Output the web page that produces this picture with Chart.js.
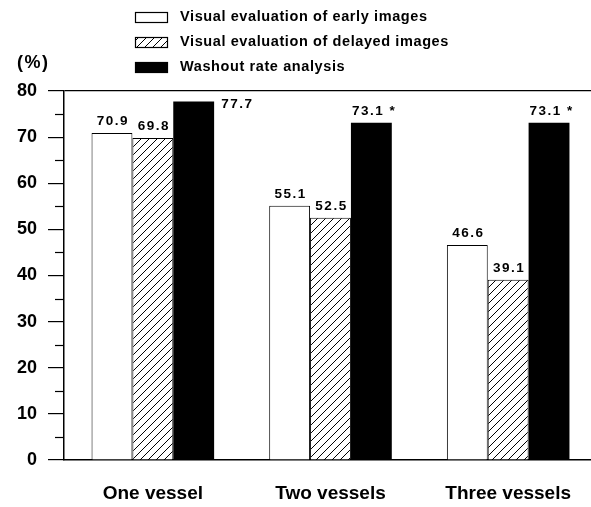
<!DOCTYPE html>
<html>
<head>
<meta charset="utf-8">
<script src="https://cdn.jsdelivr.net/npm/chart.js@4.4.1/dist/chart.umd.min.js"></script>
<style>
html, body { margin: 0; padding: 0; background: #fff; overflow: hidden; }
</style>
</head>
<body>
<canvas id="barChart" width="600" height="507"></canvas>
<script>
var categories = ['One vessel', 'Two vessels', 'Three vessels'];
var seriesNames = ['Visual evaluation of early images', 'Visual evaluation of delayed images', 'Washout rate analysis'];
var earlyValues = [70.9, 55.1, 46.6];
var delayedValues = [69.8, 52.5, 39.1];
var washoutValues = [77.7, 73.1, 73.1];
var washoutStar = [false, true, true];
var yMin = 0, yMax = 80, yStep = 10;

var FONT = '"Liberation Sans", Arial, Helvetica, sans-serif';

// diagonal hatch for the delayed images series
function makeHatch() {
    var c = document.createElement('canvas');
    c.width = 8; c.height = 8;
    var g = c.getContext('2d');
    g.fillStyle = '#fff';
    g.fillRect(0, 0, 8, 8);
    g.strokeStyle = '#000';
    g.lineWidth = 1;
    g.beginPath();
    g.moveTo(0, 8); g.lineTo(8, 0);
    g.moveTo(-1, 1); g.lineTo(1, -1);
    g.moveTo(7, 9); g.lineTo(9, 7);
    g.stroke();
    return g.createPattern(c, 'repeat');
}

var hatch = makeHatch();

var extras = {
    id: 'extras',
    afterDraw: function(chart) {
        var ctx = chart.ctx;
        var y = chart.scales.y;
        ctx.save();

        // minor ticks
        ctx.strokeStyle = '#000';
        ctx.lineWidth = 1.2;
        for (var v = yMin + yStep / 2; v < yMax; v += yStep) {
            var py = Math.round(y.getPixelForValue(v)) + 0.5;
            ctx.beginPath();
            ctx.moveTo(y.right - 9, py);
            ctx.lineTo(y.right, py);
            ctx.stroke();
        }

        // value labels
        ctx.fillStyle = '#000';
        ctx.font = 'bold 13.5px ' + FONT;
        ctx.letterSpacing = '1.5px';
        chart.data.datasets.forEach(function(ds, di) {
            chart.getDatasetMeta(di).data.forEach(function(bar, i) {
                var txt = ds.data[i].toFixed(1);
                if (di === 2 && i === 0) {
                    ctx.textAlign = 'left';
                    ctx.textBaseline = 'middle';
                    ctx.fillText(txt, bar.x + bar.width / 2 + 7, bar.y + 3);
                } else if (di === 2 && washoutStar[i]) {
                    ctx.textAlign = 'left';
                    ctx.textBaseline = 'bottom';
                    ctx.fillText(txt + ' *', bar.x - bar.width / 2 + 1, bar.y - 5);
                } else {
                    ctx.textAlign = 'center';
                    ctx.textBaseline = 'bottom';
                    ctx.fillText(txt, bar.x + 1, bar.y - 5);
                }
            });
        });

        // legend
        ctx.letterSpacing = '0.6px';
        ctx.font = 'bold 14.5px ' + FONT;
        ctx.textAlign = 'left';
        ctx.textBaseline = 'middle';
        chart.data.datasets.forEach(function(ds, di) {
            var top = 12 + di * 25;
            ctx.fillStyle = ds.backgroundColor;
            ctx.fillRect(135, top, 32, 10);
            ctx.strokeStyle = '#000';
            ctx.lineWidth = 1.2;
            ctx.strokeRect(135.5, top + 0.5, 32, 10);
            ctx.fillStyle = '#000';
            ctx.fillText(ds.label, 180, top + 5);
        });

        // unit
        ctx.font = 'bold 18px ' + FONT;
        ctx.letterSpacing = '1.5px';
        ctx.fillText('(%)', 17, 63);

        ctx.restore();
    }
};

var bar = document.getElementById('barChart').getContext('2d');
var myBarChart = new Chart(bar, {
    type: 'bar',
    data: {
        labels: categories,
        datasets: [{
            label: seriesNames[0],
            data: earlyValues,
            backgroundColor: '#fff',
            borderColor: '#000',
            borderWidth: 1
        }, {
            label: seriesNames[1],
            data: delayedValues,
            backgroundColor: hatch,
            borderColor: '#000',
            borderWidth: 1
        }, {
            label: seriesNames[2],
            data: washoutValues,
            backgroundColor: '#000',
            borderColor: '#000',
            borderWidth: 0
        }]
    },
    options: {
        responsive: false,
        animation: false,
        layout: { padding: { top: 91, right: 3, left: 0, bottom: 0 } },
        plugins: {
            legend: { display: false },
            tooltip: { enabled: false }
        },
        datasets: {
            bar: { categoryPercentage: 0.69, barPercentage: 1 }
        },
        scales: {
            x: {
                grid: { display: false },
                border: { display: true, color: '#000', width: 1.5 },
                ticks: {
                    color: '#000',
                    font: { family: FONT, size: 19, weight: 'bold' },
                    padding: 14,
                    maxRotation: 0,
                    autoSkip: false
                },
                afterFit: function(scale) { scale.height = 47; }
            },
            y: {
                min: yMin,
                max: yMax,
                ticks: {
                    stepSize: yStep,
                    color: '#000',
                    font: { family: FONT, size: 18, weight: 'bold' },
                    padding: 11
                },
                grid: {
                    color: function(c) { return c.tick && c.tick.value === yMax ? '#000' : 'rgba(0,0,0,0)'; },
                    tickColor: '#000',
                    tickLength: 16,
                    lineWidth: 1.2
                },
                border: { display: true, color: '#000', width: 1.5 },
                afterFit: function(scale) { scale.width = 64; }
            }
        }
    },
    plugins: [extras]
});
</script>
</body>
</html>
